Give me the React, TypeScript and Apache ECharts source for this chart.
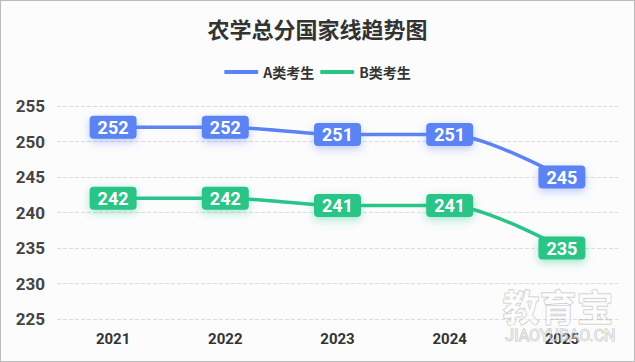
import React, { useEffect, useRef } from "react";
import * as echarts from "echarts";

const years = ["2021", "2022", "2023", "2024", "2025"];
const seriesA = [252, 252, 251, 251, 245];
const seriesB = [242, 242, 241, 241, 235];
const seriesNames = ["A类考生", "B类考生"];
const titleText = "农学总分国家线趋势图";

const BLUE = "#5b83f3";
const GREEN = "#29c487";

export default function App() {
  const ref = useRef<HTMLDivElement>(null);
  useEffect(() => {
    document.body.style.margin = "0";
    const chart = echarts.init(ref.current!, null, { renderer: "svg" });
    const mkLabel = (color: string) => ({
      show: true,
      position: "inside",
      color: "#fff",
      fontWeight: "bold",
      fontSize: 18,
      fontFamily: "Roboto, 'Noto Sans', sans-serif",
      backgroundColor: color,
      borderRadius: 4,
      padding: [3, 8, 2, 8],
      shadowColor: color + "66",
      shadowBlur: 8,
      shadowOffsetY: 3,
    });
    chart.setOption({
      animation: false,
      backgroundColor: "#fcfcfd",
      title: {
        text: titleText,
        left: "center",
        top: 11,
        textStyle: {
          fontSize: 22,
          fontWeight: "bold",
          color: "#333",
          fontFamily: "'Noto Sans CJK SC', sans-serif",
        },
      },
      legend: {
        top: 59,
        left: "center",
        itemWidth: 34,
        itemHeight: 4,
        itemGap: 6,
        icon: "roundRect",
        textStyle: {
          fontSize: 14,
          fontWeight: "bold",
          color: "#333",
          fontFamily: "'Noto Sans CJK SC', sans-serif",
        },
        data: [
          { name: seriesNames[0], itemStyle: { color: BLUE, opacity: 1 } },
          { name: seriesNames[1], itemStyle: { color: GREEN, opacity: 1 } },
        ],
      },
      grid: { left: 56, right: 16, top: 105, bottom: 42 },
      xAxis: {
        type: "category",
        data: years,
        boundaryGap: true,
        axisLine: { show: false },
        axisTick: { show: false },
        axisLabel: {
          fontSize: 15,
          fontWeight: "bold",
          color: "#333",
          margin: 12,
          fontFamily: "Roboto, sans-serif",
        },
      },
      yAxis: {
        type: "value",
        min: 225,
        max: 255,
        interval: 5,
        axisLine: { show: false },
        axisTick: { show: false },
        axisLabel: {
          fontSize: 17,
          fontWeight: "bold",
          color: "#444",
          margin: 12,
          fontFamily: "Roboto, sans-serif",
        },
        splitLine: { lineStyle: { type: "dashed", color: "#dcdcdc" } },
      },
      series: [
        {
          name: seriesNames[0],
          type: "line",
          data: seriesA,
          smooth: 0.3,
          symbol: "circle",
          symbolSize: 1,
          showSymbol: true,
          itemStyle: { color: BLUE },
          color: BLUE,
          lineStyle: { width: 3.5, color: BLUE },
          label: mkLabel(BLUE),
          z: 3,
        },
        {
          name: seriesNames[1],
          type: "line",
          data: seriesB,
          smooth: 0.3,
          symbol: "circle",
          symbolSize: 1,
          showSymbol: true,
          itemStyle: { color: GREEN },
          color: GREEN,
          lineStyle: { width: 3.5, color: GREEN },
          label: mkLabel(GREEN),
          z: 2,
        },
      ],
      graphic: [
        {
          type: "text",
          right: 20,
          top: 286,
          z: 100,
          style: {
            text: "教育宝",
            fontSize: 37,
            fontWeight: "bold",
            fill: "rgba(255,255,255,0.6)",
            stroke: "rgba(140,140,140,0.5)",
            lineWidth: 1,
            fontFamily: "'Noto Sans CJK SC', sans-serif",
          },
        },
        {
          type: "text",
          right: 18,
          top: 326,
          z: 100,
          style: {
            text: "JIAOYUBAO.CN",
            fontSize: 16,
            fill: "rgba(255,255,255,0.5)",
            stroke: "rgba(140,140,140,0.5)",
            lineWidth: 1,
            fontFamily: "Roboto, sans-serif",
          },
        },
      ],
    });
    return () => chart.dispose();
  }, []);
  return (
    <div
      style={{
        width: 635,
        height: 362,
        boxSizing: "border-box",
        border: "1px solid #bbb",
        overflow: "hidden",
      }}
    >
      <div ref={ref} style={{ width: 633, height: 360 }} />
    </div>
  );
}
